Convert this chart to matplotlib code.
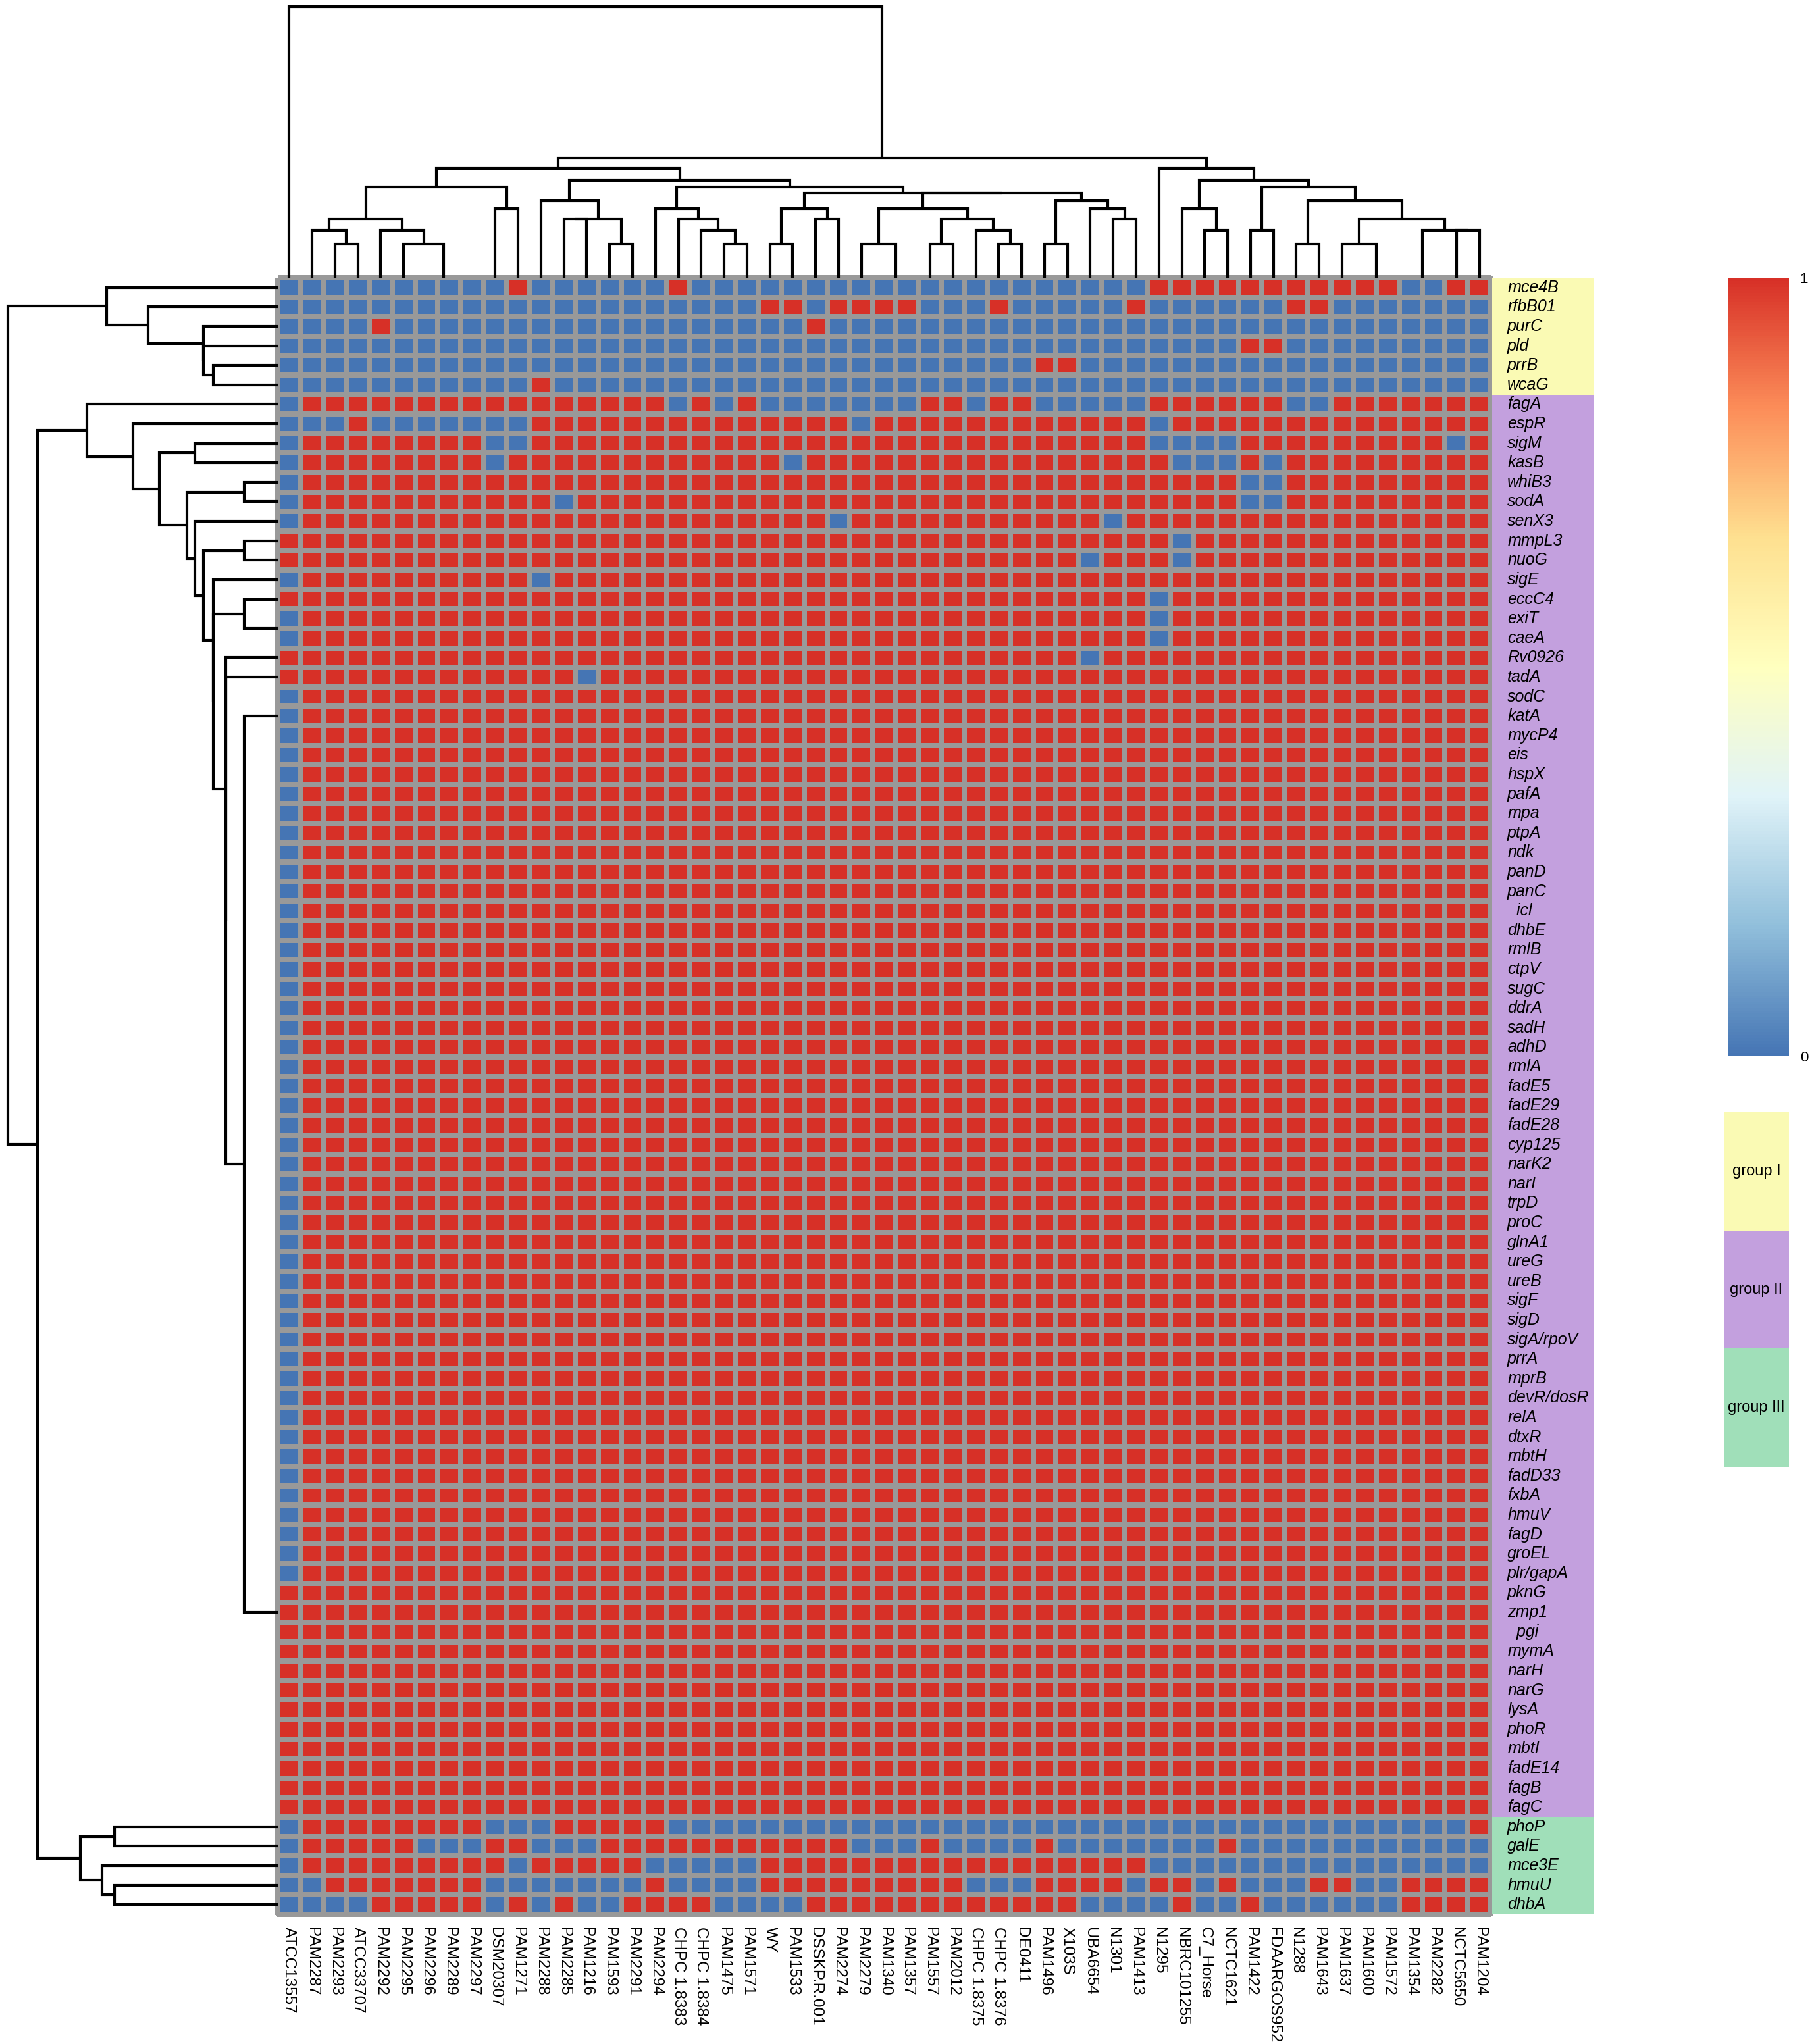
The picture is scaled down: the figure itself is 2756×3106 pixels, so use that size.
#!/usr/bin/env python3
"""
Clustered presence / absence heatmap of virulence genes across strains,
with row and column dendrograms, a gene-group strip and a colour key.
"""

import numpy as np
import matplotlib
matplotlib.use('Agg')
import matplotlib.pyplot as plt
from matplotlib.colors import LinearSegmentedColormap, ListedColormap

plt.rcParams['font.family'] = ['Liberation Sans', 'DejaVu Sans']

# ---------------------------------------------------------------- data
STRAINS = ['ATCC13557', 'PAM2287', 'PAM2293', 'ATCC33707', 'PAM2292', 'PAM2295',
           'PAM2296', 'PAM2289', 'PAM2297', 'DSM20307', 'PAM1271', 'PAM2288',
           'PAM2285', 'PAM1216', 'PAM1593', 'PAM2291', 'PAM2294', 'CHPC 1.8383',
           'CHPC 1.8384', 'PAM1475', 'PAM1571', 'WY', 'PAM1533', 'DSSKP.R.001',
           'PAM2274', 'PAM2279', 'PAM1340', 'PAM1357', 'PAM1557', 'PAM2012',
           'CHPC 1.8375', 'CHPC 1.8376', 'DE0411', 'PAM1496', 'X103S', 'UBA6654',
           'N1301', 'PAM1413', 'N1295', 'NBRC101255', 'C7_Horse', 'NCTC1621',
           'PAM1422', 'FDAARGOS952', 'N1288', 'PAM1643', 'PAM1637', 'PAM1600',
           'PAM1572', 'PAM1354', 'PAM2282', 'NCTC5650', 'PAM1204']

GENES = ['mce4B', 'rfbB01', 'purC', 'pld', 'prrB', 'wcaG',
         'fagA', 'espR', 'sigM', 'kasB', 'whiB3', 'sodA', 'senX3', 'mmpL3',
         'nuoG', 'sigE', 'eccC4', 'exiT', 'caeA', 'Rv0926', 'tadA', 'sodC',
         'katA', 'mycP4', 'eis', 'hspX', 'pafA', 'mpa', 'ptpA', 'ndk', 'panD',
         'panC', '  icl', 'dhbE', 'rmlB', 'ctpV', 'sugC', 'ddrA', 'sadH', 'adhD',
         'rmlA', 'fadE5', 'fadE29', 'fadE28', 'cyp125', 'narK2', 'narI', 'trpD',
         'proC', 'glnA1', 'ureG', 'ureB', 'sigF', 'sigD', 'sigA/rpoV', 'prrA',
         'mprB', 'devR/dosR', 'relA', 'dtxR', 'mbtH', 'fadD33', 'fxbA', 'hmuV',
         'fagD', 'groEL', 'plr/gapA', 'pknG', 'zmp1', '  pgi', 'mymA', 'narH',
         'narG', 'lysA', 'phoR', 'mbtI', 'fadE14', 'fagB', 'fagC',
         'phoP', 'galE', 'mce3E', 'hmuU', 'dhbA']

GROUP_NAMES = ['group I', 'group II', 'group III']
GROUP_COUNTS = [6, 73, 5]
GROUP_COLORS = ['#FAFAB4', '#C3A0DE', '#A0DFB9']

# 1 = present (red), 0 = absent (blue); one string per gene, strains in order
NO_FIRST = '0111111111 1111111111 1111111111 1111111111 1111111111 111'
ALL_IN = '1111111111 1111111111 1111111111 1111111111 1111111111 111'
PRESENCE = [
    '0000000000 1000000100 0000000000 0000000011 1111111110 011',  # mce4B
    '0000000000 0000000000 0110111100 0100000100 0000110000 000',  # rfbB01
    '0000100000 0000000000 0001000000 0000000000 0000000000 000',  # purC
    '0000000000 0000000000 0000000000 0000000000 0011000000 000',  # pld
    '0000000000 0000000000 0000000000 0001100000 0000000000 000',  # prrB
    '0000000000 0100000000 0000000000 0000000000 0000000000 000',  # wcaG
    '0111111111 1111111010 1000000011 0110000011 1111001111 111',  # fagA
    '0001000000 0111111111 1111101111 1111111101 1111111111 111',  # espR
    '0111111110 0111111111 1111111111 1111111100 0011111111 101',  # sigM
    '0111111110 1111111111 1101111111 1111111110 0010111111 111',  # kasB
    '0111111111 1111111111 1111111111 1111111111 1100111111 111',  # whiB3
    '0111111111 1101111111 1111111111 1111111111 1100111111 111',  # sodA
    '0111111111 1111111111 1111011111 1111110111 1111111111 111',  # senX3
    '1111111111 1111111111 1111111111 1111111110 1111111111 111',  # mmpL3
    '1111111111 1111111111 1111111111 1111101110 1111111111 111',  # nuoG
    '0111111111 1011111111 1111111111 1111111111 1111111111 111',  # sigE
    '1111111111 1111111111 1111111111 1111111101 1111111111 111',  # eccC4
    '0111111111 1111111111 1111111111 1111111101 1111111111 111',  # exiT
    '0111111111 1111111111 1111111111 1111111101 1111111111 111',  # caeA
    '1111111111 1111111111 1111111111 1111101111 1111111111 111',  # Rv0926
    '1111111111 1110111111 1111111111 1111111111 1111111111 111',  # tadA
    NO_FIRST, NO_FIRST, NO_FIRST, NO_FIRST, NO_FIRST,  # sodC .. hspX
    NO_FIRST, NO_FIRST, NO_FIRST, NO_FIRST, NO_FIRST,  # pafA .. panD
    NO_FIRST, NO_FIRST, NO_FIRST, NO_FIRST, NO_FIRST,  # panC .. ctpV
    NO_FIRST, NO_FIRST, NO_FIRST, NO_FIRST, NO_FIRST,  # sugC .. rmlA
    NO_FIRST, NO_FIRST, NO_FIRST, NO_FIRST, NO_FIRST,  # fadE5 .. narK2
    NO_FIRST, NO_FIRST, NO_FIRST, NO_FIRST, NO_FIRST,  # narI .. ureG
    NO_FIRST, NO_FIRST, NO_FIRST, NO_FIRST, NO_FIRST,  # ureB .. prrA
    NO_FIRST, NO_FIRST, NO_FIRST, NO_FIRST, NO_FIRST,  # mprB .. mbtH
    NO_FIRST, NO_FIRST, NO_FIRST, NO_FIRST, NO_FIRST,  # fadD33 .. groEL
    NO_FIRST,                                          # plr/gapA
    ALL_IN, ALL_IN, ALL_IN, ALL_IN, ALL_IN, ALL_IN,    # pknG .. narG
    ALL_IN, ALL_IN, ALL_IN, ALL_IN, ALL_IN, ALL_IN,    # lysA .. fagC
    '0111111110 0011111000 0000000000 0000000000 0000000000 001',  # phoP
    '0111110001 1000111111 1111100010 0001000000 0100000000 000',  # galE
    '0111111111 0111110000 0111111111 1111111100 0000000000 000',  # mce3E
    '0011111110 0000001000 0111111111 0001111011 0100011001 111',  # hmuU
    '0000111110 1010011110 0001111111 1111100001 0010000001 111',  # dhbA
]

# dendrograms as (height, left, right); leaves are column / row numbers
COL_LEFT_A = (2.71, (1.75, (1.42, 1, (1.0, 2, 3)),
                     (1.42, 4, (1.0, 5, (0, 6, (0, 7, 8))))),
              (2.05, 9, 10))
COL_MID = (2.52, (2.05, (1.0, 25, (0, 26, 27)),
                  (1.75, (1.0, 28, 29), (1.42, 30, (1.0, 31, 32)))),
           (2.29, (1.0, 33, 34), (2.05, 35, (1.75, 36, 37))))
COL_LEFT_B = (2.9, (2.29, 11, (1.75, (1.75, 12, 13), (1.0, 14, 15))),
              (2.71, (2.05, 16, (1.75, 17, (1.42, 18, (1.0, 19, 20)))),
               (2.52, (2.05, (1.0, 21, 22), (1.75, 23, 24)), COL_MID)))
COL_RIGHT = (3.25, 38,
             (2.9, (2.05, 39, (1.42, 40, 41)),
              (2.71, (1.42, 42, 43),
               (2.29, (1.0, 44, 45),
                (1.75, (1.0, 46, (0, 47, 48)),
                 (1.42, (0, 49, 50), (1.42, 51, 52)))))))
COL_TREE = (8.07, 0, (3.56, (3.25, COL_LEFT_A, COL_LEFT_B), COL_RIGHT))

SODC_BLOCK = list(range(21, 67))   # identical rows, merged at height 0
PKNG_BLOCK = list(range(67, 79))


def chain(leaves):
    """Right-nested zero-height merge of identical leaves."""
    node = leaves[-1]
    for leaf in reversed(leaves[:-1]):
        node = (0, leaf, node)
    return node


ROW_TAIL = (1.0, chain(SODC_BLOCK), chain(PKNG_BLOCK))
ROW_MID = (1.93, 15, (1.93, (1.0, 16, (0, 17, 18)),
                      (1.55, 19, (1.55, 20, ROW_TAIL))))
GROUP1_TREE = (5.10, 0, (3.87, 1, (2.22, 2, (2.22, 3, (1.93, 4, 5)))))
GROUP2_TREE = (5.69, 6,
               (4.31, 7,
                (3.53, (2.48, 8, 9),
                 (2.71, (1.0, 10, 11),
                  (2.48, 12, (2.22, (1.0, 13, 14), ROW_MID))))))
GROUP3_TREE = (5.88, (4.86, 79, 80), (5.23, 81, (4.86, 82, 83)))
ROW_TREE = (8.03, GROUP1_TREE, (7.16, GROUP2_TREE, GROUP3_TREE))

# ---------------------------------------------------------------- helpers
W, H = 2756, 3106
PX_PER_UNIT = 51.


def rect(x0, y0, x1, y1):
    """figure rect from pixel box (origin top left)"""
    return [x0 / W, 1 - y1 / H, (x1 - x0) / W, (y1 - y0) / H]


def links(node, out):
    """collect U shaped links, return (position, height) of node"""
    if isinstance(node, int):
        return node + 0.5, 0.
    height, left, right = node
    p_left, h_left = links(left, out)
    p_right, h_right = links(right, out)
    if height > 0:
        out.append(([p_left, p_left, p_right, p_right],
                    [h_left, height, height, h_right]))
    return (p_left + p_right) / 2., height


matrix = np.array([[int(c) for c in row.replace(' ', '')] for row in PRESENCE])
group_of_row = np.repeat(np.arange(len(GROUP_COUNTS)), GROUP_COUNTS)

cmap = LinearSegmentedColormap.from_list(
    'key', ['#4575B4', '#91BFDB', '#E0F3F8', '#FFFFBF', '#FEE090',
            '#FC8D59', '#D73027'])

fig = plt.figure(figsize=(W / 100., H / 100.), dpi=100)
fig.patch.set_facecolor('white')

# heatmap
ax = fig.add_axes(rect(422, 422, 2265, 2909))
mesh = ax.pcolormesh(matrix, cmap=cmap, vmin=0, vmax=1,
                     edgecolors='#999999', linewidth=4.5)
mesh.set_clip_on(False)
ax.set_xlim(0, len(STRAINS))
ax.set_ylim(len(GENES), 0)
ax.set_xticks(np.arange(len(STRAINS)) + 0.5)
ax.set_xticklabels(STRAINS, rotation=270, fontsize=17.5, va='top', ha='center')
ax.set_yticks([])
ax.tick_params(axis='x', length=0, pad=14)
for spine in ax.spines.values():
    spine.set_visible(False)

# column dendrogram
ax_top = fig.add_axes(rect(422, 0, 2265, 422))
segs = []
links(COL_TREE, segs)
for xs, ys in segs:
    ax_top.plot(xs, ys, c='k', lw=3, solid_joinstyle='miter',
                solid_capstyle='butt', clip_on=False)
ax_top.set_xlim(0, len(STRAINS))
ax_top.set_ylim(0, 422 / PX_PER_UNIT)
ax_top.axis('off')

# row dendrogram
ax_left = fig.add_axes(rect(0, 422, 422, 2909))
segs = []
links(ROW_TREE, segs)
for ys, xs in segs:
    ax_left.plot(xs, ys, c='k', lw=3, solid_joinstyle='miter',
                 solid_capstyle='butt', clip_on=False)
ax_left.set_xlim(422 / PX_PER_UNIT, 0)
ax_left.set_ylim(len(GENES), 0)
ax_left.axis('off')

# group strip with gene names on top of it
ax_ann = fig.add_axes(rect(2267, 422, 2421, 2909))
ax_ann.pcolormesh(group_of_row[:, None], cmap=ListedColormap(GROUP_COLORS),
                  vmin=-0.5, vmax=len(GROUP_COLORS) - 0.5)
ax_ann.set_xlim(0, 1)
ax_ann.set_ylim(len(GENES), 0)
ax_ann.axis('off')
for i, gene in enumerate(GENES):
    ax_ann.text(0.15, i + 0.5, gene, fontsize=18, style='italic',
                ha='left', va='center')

# colour key
ax_cb = fig.add_axes(rect(2625, 422, 2718, 1605))
cb = fig.colorbar(mesh, cax=ax_cb)
cb.outline.set_visible(False)
cb.set_ticks([0, 1])
cb.set_ticklabels(['0', '1'])
ax_cb.tick_params(length=0, labelsize=16, pad=12)

# group legend
ax_leg = fig.add_axes(rect(2619, 1690, 2718, 2229))
ax_leg.barh(np.arange(len(GROUP_NAMES)), 1, height=1, color=GROUP_COLORS)
for i, name in enumerate(GROUP_NAMES):
    ax_leg.text(0.5, i, name, fontsize=17, ha='center', va='center')
ax_leg.set_xlim(0, 1)
ax_leg.set_ylim(len(GROUP_NAMES) - 0.5, -0.5)
ax_leg.axis('off')

fig.savefig('out.png', dpi=100)
